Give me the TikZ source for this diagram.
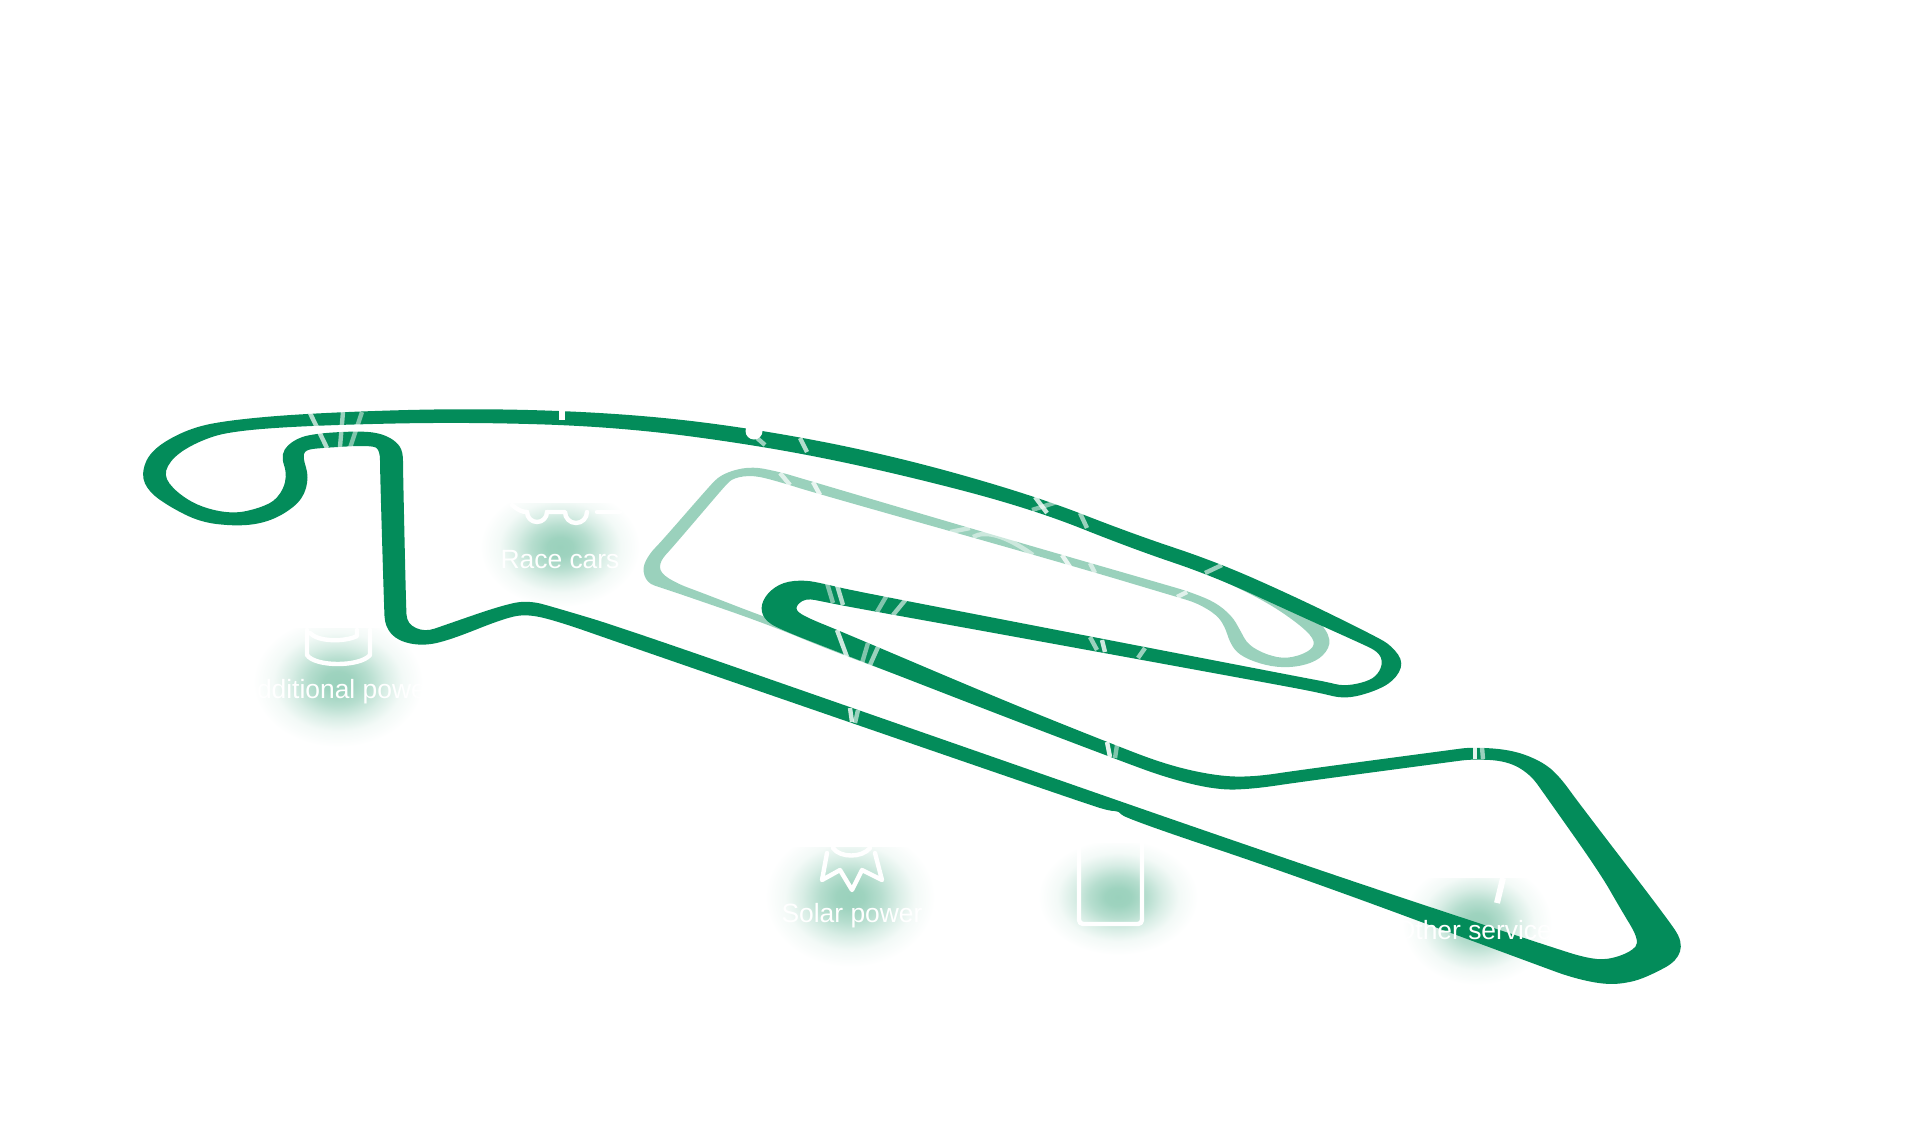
\documentclass[tikz,border=0pt]{standalone}
\usepackage{fontspec}
\setmainfont{Liberation Sans}
\definecolor{trackgreen}{HTML}{038C5A}
\definecolor{palegreen}{HTML}{9AD1BC}
\pgfdeclareradialshading{glow}{\pgfpoint{0bp}{0bp}}{color(0bp)=(palegreen);color(4bp)=(palegreen!96!white);color(9bp)=(palegreen!72!white);color(14bp)=(palegreen!38!white);color(19bp)=(palegreen!12!white);color(25bp)=(white);color(50bp)=(white)}
\tikzset{
  glowblob/.style={shading=glow},
  trackfill/.style={fill=trackgreen,even odd rule},
  palefill/.style={fill=palegreen,even odd rule},
  stripe/.style={draw=white,line width=2.2pt,opacity=#1},
  icon/.style={draw=white,line width=2.2pt,line join=round,line cap=round,fill=none},
  lab/.style={text=white,font=\fontsize{13.2pt}{15pt}\selectfont,inner sep=0pt},
}
\def\outerlist{183/431,220/421,310/413,470/408,620/413,745/427,887/454,1033/495,1133/534,1217/562,1300/599,1375/636,1392/646,1404/663,1394/681,1373/692,1345/699,1320/693,1290/687,1000/634,850/607,825/602,805/598,794/608,803/616,840/631,1000/699,1107/742,1167/765,1217/776,1253/777,1300/770,1450/750,1473/747,1513/750,1543/762,1560/777,1578/802,1667/918,1683/942,1677/961,1653/974,1633/982,1607/985,1573/978,1540/966,1300/877,1124/818,1119/811,1110/811,1090/805,843/720,620/643,560/622,528/614,505/618,450/640,423/646,398/641,385/627,384/605,380/470,380/451,373/445,320/448,305/450,303/458,309/477,303/499,283/515,260/524,233/526,200/522,170/507,149/492,141/475,150/451}
\def\innerlist{197/442,230/431,320/425,470/422,620/427,763/446,887/471,1030/508,1133/549,1213/576,1300/616,1360/643,1379/652,1383/664,1376/677,1362/683,1343/686,1327/682,1300/677,1000/619,850/590,825/584,805/580,783/582,767/593,760/608,766/622,787/632,820/645,1000/715,1113/758,1167/778,1217/790,1253/789,1300/782,1450/762,1473/759,1507/761,1530/774,1545/795,1600/873,1620/908,1640/941,1631/952,1607/960,1587/958,1560/950,1300/864,887/720,620/627,560/609,528/600,500/606,445/625,425/632,407/624,406/605,403/470,403/452,397/442,383/434,363/431,320/433,296/438,280/453,288/477,278/499,260/508,233/514,200/507,176/492,163/475,173/457}
\def\palelist{767/624,680/594,662/588,647/583,642/568,650/553,660/543,707/489,721/474,750/466,780/472,800/478,1000/537,1170/586,1190/592,1215/602,1232/616,1240/630,1248/645,1267/655,1287/659,1309/652,1316/642,1303/627,1267/602,1217/578,1190/566,1190/566,1195/558,1195/558,1240/577,1300/606,1318/619,1332/640,1324/656,1307/665,1283/668,1260/664,1239/655,1230/643,1225/627,1217/615,1197/603,1177/597,1063/563,815/493,780/482,753/475,733/478,725/486,713/500,672/548,660/561,660/573,678/584,700/592,767/618,853/648,950/688,950/688,950/694,950/694,837/653}
\begin{document}
\begin{tikzpicture}[x=0.5pt,y=-0.5pt]
\useasboundingbox (0,0) rectangle (1906,1135);
% glows
\begin{scope}\clip (440,503) rectangle (680,640);
\shade[glowblob] (560,547) ellipse [x radius=80,y radius=60];\end{scope}
\begin{scope}\clip (220,628) rectangle (450,770);
\shade[glowblob] (338,682) ellipse [x radius=85,y radius=65];\end{scope}
\begin{scope}\clip (740,847) rectangle (960,990);
\shade[glowblob] (850,897) ellipse [x radius=85,y radius=70];\end{scope}
\begin{scope}\clip (1020,843) rectangle (1210,980);
\shade[glowblob] (1118,897) ellipse [x radius=80,y radius=58];\end{scope}
\begin{scope}\clip (1380,878) rectangle (1580,1000);
\shade[glowblob] (1477,923) ellipse [x radius=75,y radius=62];\end{scope}
% pale track
\fill[palefill] ({(950+837)/2},{(694+653)/2})
 \foreach \x/\y [remember=\px as \ppx (initially 950),remember=\py as \ppy (initially 694),remember=\x as \px (initially 837),remember=\y as \py (initially 653)] in \palelist
 { .. controls ({(\ppx+5*\px)/6},{(\ppy+5*\py)/6}) and ({(\x+5*\px)/6},{(\y+5*\py)/6}) .. ({(\px+\x)/2},{(\py+\y)/2}) } -- cycle;
% main track
\fill[trackfill]
 ({(141+150)/2},{(475+451)/2})
 \foreach \x/\y [remember=\px as \ppx (initially 141),remember=\py as \ppy (initially 475),remember=\x as \px (initially 150),remember=\y as \py (initially 451)] in \outerlist
 { .. controls ({(\ppx+5*\px)/6},{(\ppy+5*\py)/6}) and ({(\x+5*\px)/6},{(\y+5*\py)/6}) .. ({(\px+\x)/2},{(\py+\y)/2}) } -- cycle
 ({(163+173)/2},{(475+457)/2})
 \foreach \x/\y [remember=\px as \ppx (initially 163),remember=\py as \ppy (initially 475),remember=\x as \px (initially 173),remember=\y as \py (initially 457)] in \innerlist
 { .. controls ({(\ppx+5*\px)/6},{(\ppy+5*\py)/6}) and ({(\x+5*\px)/6},{(\y+5*\py)/6}) .. ({(\px+\x)/2},{(\py+\y)/2}) } -- cycle;
% light stripes
\foreach \a/\b/\c/\d/\o in {310/413/327/448/.7, 343/412/340/447/.6, 362/412/350/448/.5,
 757/438/765/445/.6, 800/438/807/452/.7, 1035/497/1047/513/.8, 1032/510/1057/502/.5, 1080/513/1087/528/.6,
 780/473/790/485/.7, 813/482/820/495/.8, 1062/555/1070/567/.8, 1090/563/1095/573/.6,
 827/583/833/603/.5, 837/585/843/605/.7, 887/595/877/612/.5, 907/598/893/615/.6,
 837/630/847/657/.8, 868/643/862/663/.5, 878/647/870/665/.6, 850/708/852/722/.8, 858/710/855/723/.6,
 1090/637/1097/650/.6, 1102/640/1105/652/.8, 1145/648/1138/658/.6, 1222/565/1205/573/.6, 1187/592/1177/597/.7,
 1107/742/1110/757/.9, 1117/745/1115/758/.5, 1475/747/1475/759/.9, 1482/747/1483/759/.6}
 {\draw[stripe=\o] (\a,\b) -- (\c,\d);}
\draw[stripe=.5] (950,532) -- (970,528);
\draw[stripe=.5] (973,537) .. controls (985,530) and (1005,535) .. (1033,555);
% notches
\draw[white,line width=3pt] (562,407) -- (562,420);
\fill[white] (754,431) circle [radius=8.5];
% icons
\draw[icon] (512,505) .. controls (518,510) and (522,512) .. (527,512);
\draw[icon] (527,512) arc [start angle=180,end angle=0,radius=10];
\draw[icon] (547,512) -- (565,512) arc [start angle=180,end angle=0,radius=11];
\draw[icon] (597,512) -- (620,512);
\draw[icon] (307,630) -- (307,655) .. controls (315,667) and (360,667) .. (370,655) -- (370,630);
\draw[icon] (310,633) .. controls (318,642) and (345,642) .. (357,636) -- (357,630);
\draw[icon] (827,853) -- (822,880) -- (840,870) -- (852,890) -- (862,870) -- (882,880) -- (875,853);
\draw[icon] (833,848) .. controls (840,858) and (862,858) .. (870,848);
\draw[icon,rounded corners=2pt] (1079,843) -- (1079,924) -- (1142,924) -- (1142,843);
\draw[icon,line cap=butt,line width=3pt] (1503,878) -- (1497,903);
% labels
\node[lab] (race) at (560,560) {Race cars};
\node[lab] (addpower) at (337,692) {Additional power};
\node[lab] (solar) at (852,916) {Solar power};
\node[lab] (other) at (1480,930) {Other services};
\end{tikzpicture}
\end{document}
